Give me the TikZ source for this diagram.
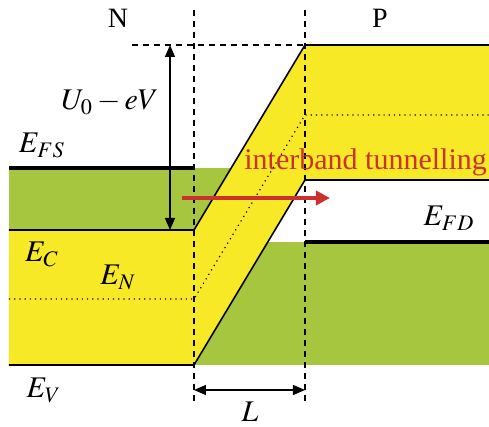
\documentclass[tikz,border=0pt]{standalone}
\usepackage{mathptmx}
\usepackage{fontspec}
\setmainfont{Liberation Serif}
\usetikzlibrary{arrows.meta}
\definecolor{bandyellow}{RGB}{247,233,38}
\definecolor{bandgreen}{RGB}{166,198,64}
\definecolor{tunnelred}{RGB}{204,50,45}

\begin{document}
\begin{tikzpicture}[
  x=0.5pt, y=-0.5pt,
  edge/.style={line width=0.8pt},
  fermi/.style={line width=1.6pt},
  guide/.style={line width=0.6pt, dash pattern=on 3pt off 2.5pt},
  mid/.style={line width=0.6pt, dotted},
  dim/.style={{Triangle[length=6pt,width=5pt]}-{Triangle[length=6pt,width=5pt]}, line width=0.6pt},
  lbl/.style={font=\fontsize{15}{17}\selectfont, inner sep=0pt, anchor=base},
]
\useasboundingbox (0,0) rectangle (489,427);

% occupied states
\fill[bandgreen] (9,168) rectangle (250,230);
\fill[bandgreen] (194,242) rectangle (489,365);

% band (conduction to valence)
\fill[bandyellow] (9,230) -- (194,230) -- (305,45) -- (489,45) -- (489,180)
  -- (305,180) -- (194,365) -- (9,365) -- cycle;
\draw[edge] (9,230) -- (194,230) -- (305,45) -- (489,45);
\draw[edge] (489,180) -- (305,180) -- (194,365) -- (9,365);
\draw[mid] (9,299) -- (194,299) -- (305,115) -- (489,115);

% Fermi levels
\draw[fermi] (9,168) -- (194,168);
\draw[fermi] (305,242) -- (489,242);

% junction limits
\draw[guide] (194,10) -- (194,403);
\draw[guide] (305,10) -- (305,403);
\draw[guide] (132,45) -- (305,45);

% labels
\node[lbl, font=\fontsize{14}{16}\selectfont] (nlbl) at (118,28) {N};
\node[lbl, font=\fontsize{14}{16}\selectfont] (plbl) at (380,28) {P};
\node[lbl] (efs) at (42,153) {$E_{FS}$};
\node[lbl] (ec) at (42,262) {$E_C$};
\node[lbl] (en) at (118,285) {$E_N$};
\node[lbl] (ev) at (44,398) {$E_V$};
\node[lbl] (efd) at (449,226) {$E_{FD}$};
\node[lbl] (ulbl) at (110,110) {$U_0-eV$};
\node[lbl] (llbl) at (250,422) {$L$};
\node[lbl, anchor=base west, text=tunnelred] (tunlbl) at (244,170) {interband tunnelling};

% barrier height and width
\coordinate (utop) at (170,45);
\coordinate (ubot) at (170,230);
\draw[dim] (utop) -- (ubot);
\coordinate (lleft) at (194,390);
\coordinate (lright) at (305,390);
\draw[dim] (lleft) -- (lright);

% tunnelling arrow
\coordinate (tstart) at (182,198);
\coordinate (tend) at (330,198);
\draw[tunnelred, line width=2pt, -{Triangle[length=7pt,width=7pt]}] (tstart) -- (tend);
\end{tikzpicture}
\end{document}
